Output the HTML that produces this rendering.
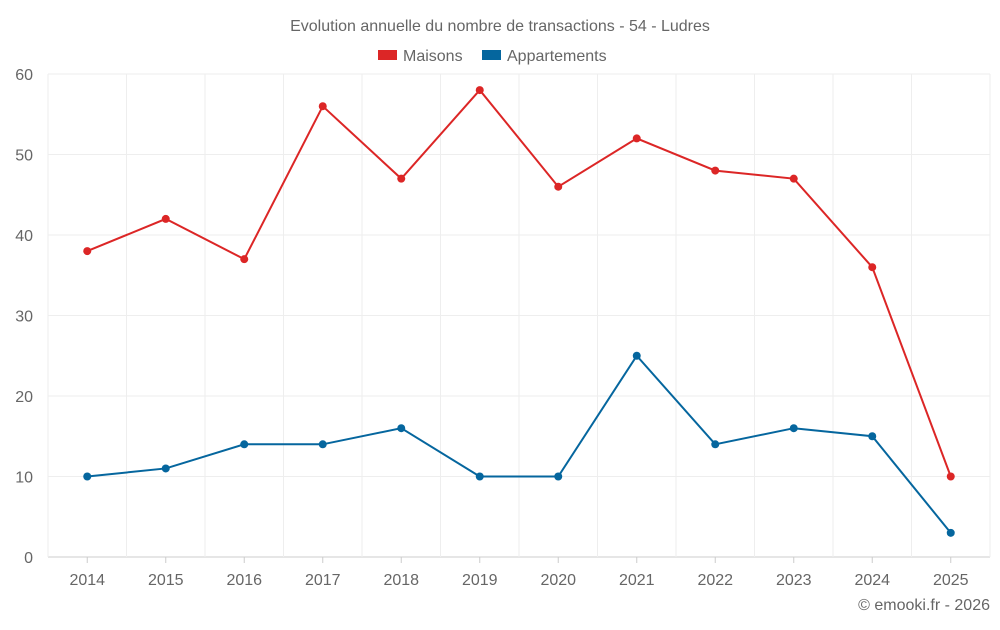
<!DOCTYPE html>
<html><head><meta charset="utf-8"><style>
body{margin:0;background:#fff;font-family:"Liberation Sans",sans-serif;}
svg text{font-family:"Liberation Sans",sans-serif;fill:#666;}
</style></head><body>
<svg id="chart" width="1000" height="625">
<text x="500" y="31" text-anchor="middle" font-size="16">Evolution annuelle du nombre de transactions - 54 - Ludres</text>
<g>
<rect x="378" y="50" width="19" height="10" fill="#dc2626"/>
<text x="403" y="61" font-size="16">Maisons</text>
<rect x="482" y="50" width="19" height="10" fill="#05669e"/>
<text x="507" y="61" font-size="16">Appartements</text>
</g>
<g id="grid"></g><g id="axes"></g><g id="series"></g>
<text x="990" y="610" text-anchor="end" font-size="16">© emooki.fr - 2026</text>
</svg>
<script>
const categories=["2014","2015","2016","2017","2018","2019","2020","2021","2022","2023","2024","2025"];
const maisons=[38,42,37,56,47,58,46,52,48,47,36,10];
const appartements=[10,11,14,14,16,10,10,25,14,16,15,3];
const yTicks=[0,10,20,30,40,50,60];
const L=48,R=990,T=74,B=557,yMax=60;
const bw=(R-L)/categories.length;
const x=i=>L+bw*(i+0.5);
const y=v=>B-(v/yMax)*(B-T);
const NS="http://www.w3.org/2000/svg";
function mk(tag,attrs,parent){const e=document.createElementNS(NS,tag);for(const k in attrs)e.setAttribute(k,attrs[k]);parent.appendChild(e);return e;}
const grid=document.getElementById('grid'),axes=document.getElementById('axes'),ser=document.getElementById('series');
yTicks.forEach(t=>{
 const l=mk('line',{x1:L,x2:R,y1:y(t),y2:y(t),stroke:t===0?'#ccc':'#eee'},grid);
 
 
 const tx=mk('text',{x:33,y:y(t)+6,'text-anchor':'end','font-size':16},axes);
 tx.textContent=t;
 
 
});
for(let i=0;i<=categories.length;i++){
 const l=mk('line',{x1:L+bw*i,x2:L+bw*i,y1:T,y2:B+(i===0||i===categories.length?0:0),stroke:'#eee'},grid);
 
 
}
categories.forEach((c,i)=>{
 const tk=mk('line',{x1:x(i),x2:x(i),y1:B,y2:B+6,stroke:'#ccc'},axes);
 
 
 const tx=mk('text',{x:x(i),y:585,'text-anchor':'middle','font-size':16},axes);
 tx.textContent=c;
 
 
});
function draw(data,color,name){
 const p=mk('polyline',{points:data.map((v,i)=>x(i)+','+y(v)).join(' '),fill:'none',stroke:color,'stroke-width':2},ser);
 
 
 data.forEach((v,i)=>{
  const c=mk('circle',{cx:x(i),cy:y(v),r:4,fill:color},ser);
  
  
 });
}
draw(maisons,'#dc2626','maisons');
draw(appartements,'#05669e','appartements');
</script>
</body></html>
